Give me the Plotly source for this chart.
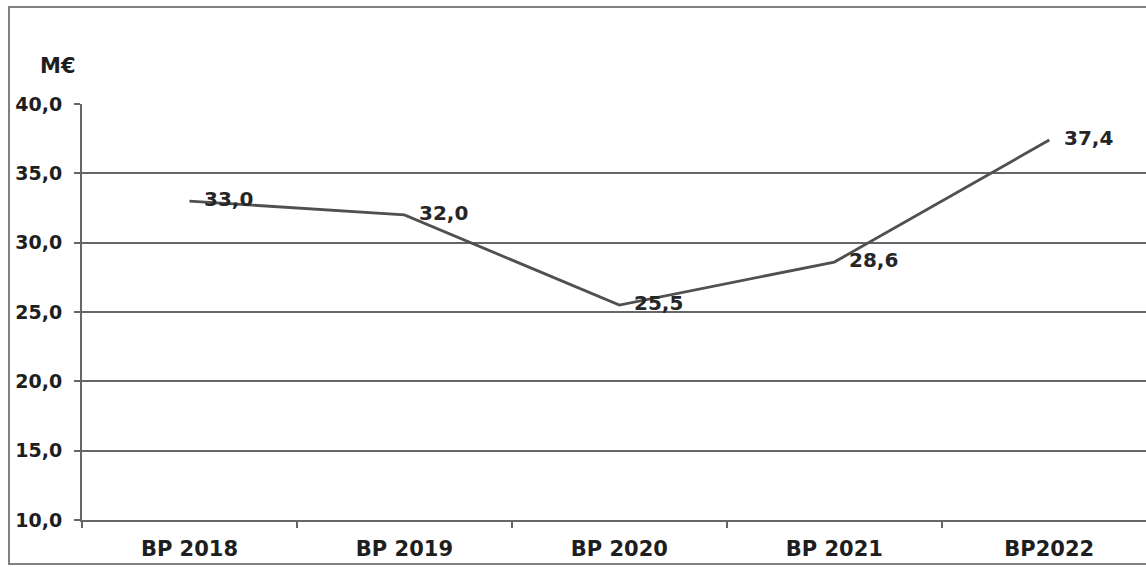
import plotly.graph_objects as go

categories = ["BP 2018", "BP 2019", "BP 2020", "BP 2021", "BP2022"]
values = [33.0, 32.0, 25.5, 28.6, 37.4]
labels = ["33,0", "32,0", "25,5", "28,6", "37,4"]
y_ticks = [10, 15, 20, 25, 30, 35, 40]

W, H = 1146, 567
FONT = "DejaVu Sans"
TXT = "#1e1e1e"
GRID = "#666666"

fig = go.Figure()
fig.add_trace(go.Scatter(
    x=categories, y=values, mode="lines",
    line=dict(color="#505050", width=2.8),
    cliponaxis=False, hoverinfo="skip",
))

annotations = [
    dict(x=c, y=v, text=t, xref="x", yref="y", showarrow=False,
         xanchor="left", yanchor="middle", xshift=13, yshift=2,
         font=dict(family=FONT, size=20, color="#262626", weight="bold"))
    for c, v, t in zip(categories, values, labels)
]
annotations.append(
    dict(text="M€", xref="paper", yref="paper", x=58 / W, y=(H - 66) / H,
         showarrow=False, xanchor="center", yanchor="middle",
         font=dict(family=FONT, size=21, color=TXT, weight="bold"))
)

x0 = 82 / W
fig.update_layout(
    width=W, height=H,
    margin=dict(l=0, r=0, t=0, b=0),
    paper_bgcolor="white", plot_bgcolor="white",
    showlegend=False,
    separators=",.",
    font=dict(family=FONT, color=TXT),
    xaxis=dict(
        domain=[x0, 1], range=[-0.5, 4.45],
        type="category", tickson="boundaries",
        ticks="outside", ticklen=6, tickcolor=GRID, tickwidth=2,
        showline=True, linecolor=GRID, linewidth=2,
        showgrid=False, automargin=False,
        tickfont=dict(family=FONT, size=21, color=TXT, weight="bold"),
        ticklabelstandoff=9,
    ),
    yaxis=dict(
        domain=[(H - 520) / H, (H - 104) / H], range=[10, 40],
        tickvals=y_ticks, tickformat=".1f",
        ticks="outside", ticklen=6, tickcolor=GRID, tickwidth=2,
        showline=True, linecolor=GRID, linewidth=2,
        showgrid=True, gridcolor=GRID, gridwidth=2,
        zeroline=False, automargin=False,
        tickfont=dict(family=FONT, size=19, color=TXT, weight="bold"),
        ticklabelstandoff=8,
    ),
    shapes=[
        dict(type="rect", xref="paper", yref="paper",
             x0=9 / W, x1=1.01, y0=(H - 564) / H, y1=(H - 7) / H,
             line=dict(color="#808080", width=2), fillcolor="rgba(0,0,0,0)"),
    ],
    annotations=annotations,
)

fig.write_html("out.html")
